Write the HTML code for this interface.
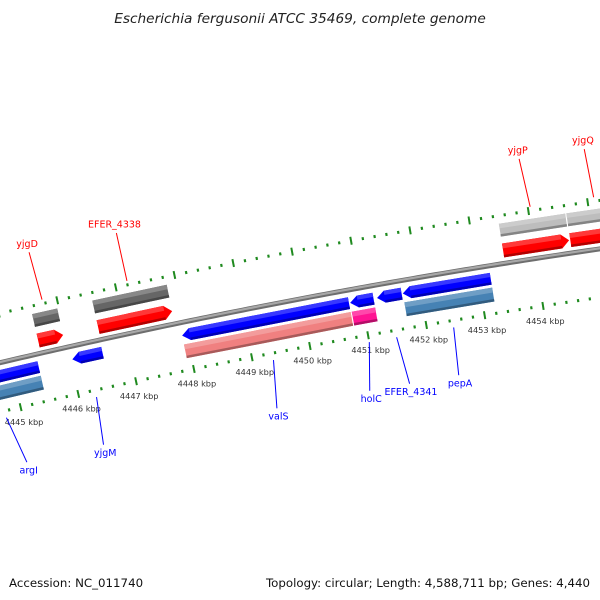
<!DOCTYPE html>
<html><head><meta charset="utf-8">
<style>
html,body{margin:0;padding:0;background:#fff;}
svg{display:block;font-family:"DejaVu Sans","Liberation Sans",sans-serif;}
</style></head>
<body>
<svg id="map" width="600" height="600" viewBox="0 0 600 600" xmlns="http://www.w3.org/2000/svg">
<rect width="600" height="600" fill="#fff"/>
<text x="300" y="23" text-anchor="middle" font-size="13.7" font-style="italic" fill="#222">Escherichia fergusonii ATCC 35469, complete genome</text>
<text x="9" y="587" font-size="11.8" fill="#111">Accession: NC_011740</text>
<text x="590" y="587" text-anchor="end" font-size="11.8" fill="#111">Topology: circular; Length: 4,588,711 bp; Genes: 4,440</text>
<g id="rings"></g>
</svg>
<script>
// ---- data (kbp) ----
const geneNames = ["yjgD","EFER_4338","yjgP","yjgQ","argI","yjgM","valS","holC","EFER_4341","pepA"];
const geneStart = [4445.54,4446.57,4453.48,4454.62,4444.00,4446.03,4447.92,4450.80,4451.26,4451.70];
const geneEnd   = [4445.97,4447.84,4454.60,4455.60,4445.45,4446.55,4450.78,4451.20,4451.68,4453.20];
const geneStrand= [1,1,1,1,-1,-1,-1,-1,-1,-1];
const geneBarColor = ["#666666","#666666","#bdbdbd","#bdbdbd","#4682b4",null,"#f08080","#ff1493",null,"#4682b4"];
const labelBp = [4445.72,4447.20,4453.98,4455.07,4444.89,4446.23,4449.25,4450.86,4451.55,4452.40];
const tickStart = 4443.4, tickEnd = 4455.8, tickStep = 0.2;
const tickLabelKbp = [4445,4446,4447,4448,4449,4450,4451,4452,4453,4454];

// ---- geometry ----
const CX=1599, CY=7154, R=6977, refBp=4448, refDeg=-101.7, degPerKbp=0.489;
function ang(bp){return (refDeg+(bp-refBp)*degPerKbp)*Math.PI/180;}
function pt(bp,d){const a=ang(bp),r=R+d;return [CX+r*Math.cos(a),CY+r*Math.sin(a)];}
const NS="http://www.w3.org/2000/svg";
const g=document.getElementById('rings');
function mk(tag,attrs){const e=document.createElementNS(NS,tag);for(const k in attrs)e.setAttribute(k,attrs[k]);g.appendChild(e);return e;}
function arcPath(b0,b1,d){let s="";for(let b=b0;b<=b1+1e-9;b+=0.1){const p=pt(b,d);s+=(s?"L":"M")+p[0].toFixed(2)+","+p[1].toFixed(2);}return s;}
function poly(list){return list.map(p=>p[0].toFixed(2)+","+p[1].toFixed(2)).join(" ");}

// backbone
let bb=mk('path',{d:arcPath(4443,4456,0),stroke:"#6e6e6e",'stroke-width':5,fill:"none"});


let bb2=mk('path',{d:arcPath(4443,4456,0.6),stroke:"#a8a8a8",'stroke-width':2.2,fill:"none"});



// ticks
const nT=Math.round((tickEnd-tickStart)/tickStep);
for(let i=0;i<=nT;i++){
  const b=tickStart+i*tickStep;
  const major=Math.abs(b-Math.round(b))<1e-6;
  [1,-1].forEach(s=>{
    const d0=s*(major?44:46.5), d1=s*(major?52:49.5);
    const p0=pt(b,d0),p1=pt(b,d1);
    const t=mk('line',{x1:p0[0],y1:p0[1],x2:p1[0],y2:p1[1],stroke:"#1f8a1f",'stroke-width':major?2:2.2});
    
    
  });
}
tickLabelKbp.forEach(k=>{
  const p=pt(k,-63);
  const t=mk('text',{x:p[0],y:p[1]+3,'text-anchor':'middle','font-size':8.2,fill:"#333"});
  t.textContent=k+" kbp";
  
  
});

function shade(c,f){const n=parseInt(c.slice(1),16);let r=n>>16,gg=(n>>8)&255,b=n&255;
  const m=x=>Math.max(0,Math.min(255,Math.round(f>0?x+(255-x)*f:x*(1+f))));
  return "rgb("+m(r)+","+m(gg)+","+m(b)+")";}

function bar(b0,b1,dIn,dOut,color,arrow,name){
  const lo=Math.min(dIn,dOut),hi=Math.max(dIn,dOut),mid=(lo+hi)/2,ak=0.13;
  let pts;
  if(arrow===1){pts=[pt(b0,hi),pt(b1-ak,hi),pt(b1,mid),pt(b1-ak,lo),pt(b0,lo)];}
  else if(arrow===-1){pts=[pt(b0+ak,hi),pt(b1,hi),pt(b1,lo),pt(b0+ak,lo),pt(b0,mid)];}
  else {pts=[pt(b0,hi),pt(b1,hi),pt(b1,lo),pt(b0,lo)];}
  const e=mk('polygon',{points:poly(pts),fill:color});
  
  
  const h1=hi-(hi-lo)*0.35;
  const sA=arrow===-1?b0+ak:b0, sB=arrow===1?b1-ak:b1;
  const hl=mk('polygon',{points:poly([pt(sA,hi),pt(sB,hi),pt(sB,h1),pt(sA,h1)]),fill:shade(color,0.22)});
  
  
  const l2=lo+2.5;
  const sh=mk('polygon',{points:poly([pt(sA,l2),pt(sB,l2),pt(sB,lo),pt(sA,lo)]),fill:shade(color,-0.3)});
  
  
}

const clipMin=4443.2, clipMax=4456;
for(let i=0;i<geneNames.length;i++){
  const s=Math.max(geneStart[i],clipMin), e=Math.min(geneEnd[i],clipMax);
  if(geneStrand[i]===1){
    bar(s,e,6,20,"#ff0000",1,"cds-"+geneNames[i]);
    bar(s,e,27,40,geneBarColor[i],0,"gene-"+geneNames[i]);
  } else {
    bar(s,e,-7,-19,"#0000ff",-1,"cds-"+geneNames[i]);
    if(geneBarColor[i]) bar(s,e,-22,-36,geneBarColor[i],0,"gene-"+geneNames[i]);
  }
  const mid=(geneStart[i]+geneEnd[i])/2, sgn=geneStrand[i];
  const col=sgn===1?"#ff0000":"#0000ff";
  const p0=pt(mid,sgn===1?52:-55), p1=pt(labelBp[i],sgn===1?101:-103);
  const ln=mk('line',{x1:p0[0],y1:p0[1],x2:p1[0],y2:p1[1],stroke:col,'stroke-width':1});
  
  
  const pl=pt(labelBp[i],sgn===1?110:-111);
  const tx=mk('text',{x:pl[0],y:pl[1]+3.5,'text-anchor':'middle','font-size':9.5,fill:col});
  tx.textContent=geneNames[i];
  
  
}
</script>
</body></html>
